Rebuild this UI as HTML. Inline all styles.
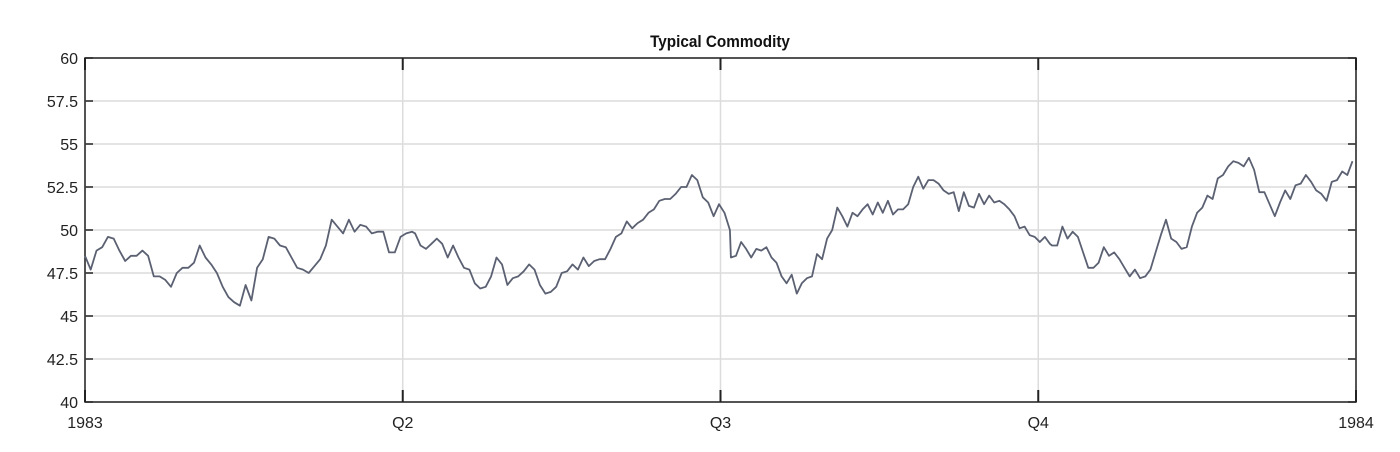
<!DOCTYPE html>
<html><head><meta charset="utf-8"><style>
body{margin:0;background:#fff;}
svg{display:block;font-family:"Liberation Sans",sans-serif;}
</style></head><body>
<svg id="chart" width="1400" height="452"></svg>
<script>
const yTicks=[40,42.5,45,47.5,50,52.5,55,57.5,60];
const yTickLabels=["40","42.5","45","47.5","50","52.5","55","57.5","60"];
const xTickDays=[0,91.25,182.5,273.75,365];
const xTickLabels=["1983","Q2","Q3","Q4","1984"];
const q1Prices=[48.5,47.7,48.8,49.0,49.6,49.5,48.8,48.2,48.5,48.5,48.8,48.5,47.3,47.3,47.1,46.7,47.5,47.8,47.8,48.1,49.1,48.4,48.0,47.5,46.7,46.1,45.8,45.6,46.8,45.9,47.8,48.3,49.6,49.5,49.1,49.0,48.4,47.8,47.7,47.5,47.9,48.3,49.1,50.6,50.2,49.8,50.6,49.9,50.3,50.2,49.8,49.9,49.9,48.7,48.7,49.6,49.8,49.9];
const q2Prices=[49.8,49.1,48.9,49.2,49.5,49.2,48.4,49.1,48.4,47.8,47.7,46.9,46.6,46.7,47.3,48.4,48.0,46.8,47.2,47.3,47.6,48.0,47.7,46.8,46.3,46.4,46.7,47.5,47.6,48.0,47.7,48.4,47.9,48.2,48.3,48.3,48.9,49.6,49.8,50.5,50.1,50.4,50.6,51.0,51.2,51.7,51.8,51.8,52.1,52.5,52.5,53.2,52.9,51.9,51.6,50.8,51.5,51.0,50.0];
const q3Prices=[48.4,48.5,49.3,48.9,48.4,48.9,48.8,49.0,48.4,48.1,47.3,46.9,47.4,46.3,46.9,47.2,47.3,48.6,48.3,49.5,50.0,51.3,50.8,50.2,51.0,50.8,51.2,51.5,50.9,51.6,51.0,51.7,50.9,51.2,51.2,51.5,52.5,53.1,52.4,52.9,52.9,52.7,52.3,52.1,52.2,51.1,52.2,51.4,51.3,52.1,51.5,52.0,51.6,51.7,51.5,51.2,50.8,50.1,50.2,49.7,49.6,49.3,49.6,49.2];
const q4Prices=[49.1,49.1,50.2,49.5,49.9,49.6,48.7,47.8,47.8,48.1,49.0,48.5,48.7,48.3,47.8,47.3,47.7,47.2,47.3,47.7,48.7,49.7,50.6,49.5,49.3,48.9,49.0,50.2,51.0,51.3,52.0,51.8,53.0,53.2,53.7,54.0,53.9,53.7,54.2,53.5,52.2,52.2,51.5,50.8,51.6,52.3,51.8,52.6,52.7,53.2,52.8,52.3,52.1,51.7,52.8,52.9,53.4,53.2,54.0];
const segStartDay=[0,94.8,185.5,277.7];
const segEndDay=[93.9,185.2,277.1,364];

const L=85,R=1356,T=58,B=402;
const ys=v=>B-(v-40)/20*(B-T);
const xs=d=>L+d/365*(R-L);
const NS="http://www.w3.org/2000/svg";
const svg=document.getElementById('chart');
function mk(tag,attrs,parent){const e=document.createElementNS(NS,tag);for(const k in attrs)e.setAttribute(k,attrs[k]);(parent||svg).appendChild(e);return e;}

const title=mk('text',{x:720,y:47,'text-anchor':'middle','font-size':17,'font-weight':'bold',fill:'#111',transform:'translate(720 0) scale(0.9 1) translate(-720 0)'});


title.textContent='Typical Commodity';

yTicks.forEach((v,i)=>{
  const g=mk('line',{x1:L,x2:R,y1:ys(v),y2:ys(v),stroke:'#dcdcdc','stroke-width':1.5});
  
  
  mk('line',{x1:L,x2:L+8,y1:ys(v),y2:ys(v),stroke:'#222','stroke-width':1.5});
  mk('line',{x1:R-8,x2:R,y1:ys(v),y2:ys(v),stroke:'#222','stroke-width':1.5});
  const t=mk('text',{x:78,y:ys(v)+6,'text-anchor':'end','font-size':16,fill:'#222'});
  
  
  t.textContent=yTickLabels[i];
});
xTickDays.forEach((d,i)=>{
  const x=xs(d);
  const g=mk('line',{x1:x,x2:x,y1:T,y2:B,stroke:'#dcdcdc','stroke-width':1.5});
  
  
  mk('line',{x1:x,x2:x,y1:T,y2:T+12,stroke:'#222','stroke-width':2});
  mk('line',{x1:x,x2:x,y1:B-12,y2:B,stroke:'#222','stroke-width':2});
  const t=mk('text',{x:x,y:428,'text-anchor':'middle','font-size':16,fill:'#222'});
  
  
  t.textContent=xTickLabels[i];
});
const box=mk('rect',{x:L,y:T,width:R-L,height:B-T,fill:'none',stroke:'#222','stroke-width':1.5});



const segs=[q1Prices,q2Prices,q3Prices,q4Prices];
const pts=[];
segs.forEach((arr,s)=>{
  arr.forEach((v,i)=>{
    const d=segStartDay[s]+(segEndDay[s]-segStartDay[s])*i/(arr.length-1);
    pts.push(xs(d).toFixed(1)+','+ys(v).toFixed(1));
  });
});
const line=mk('polyline',{points:pts.join(' '),fill:'none',stroke:'#5b6172','stroke-width':1.8,'stroke-linejoin':'round'});


</script>
</body></html>
